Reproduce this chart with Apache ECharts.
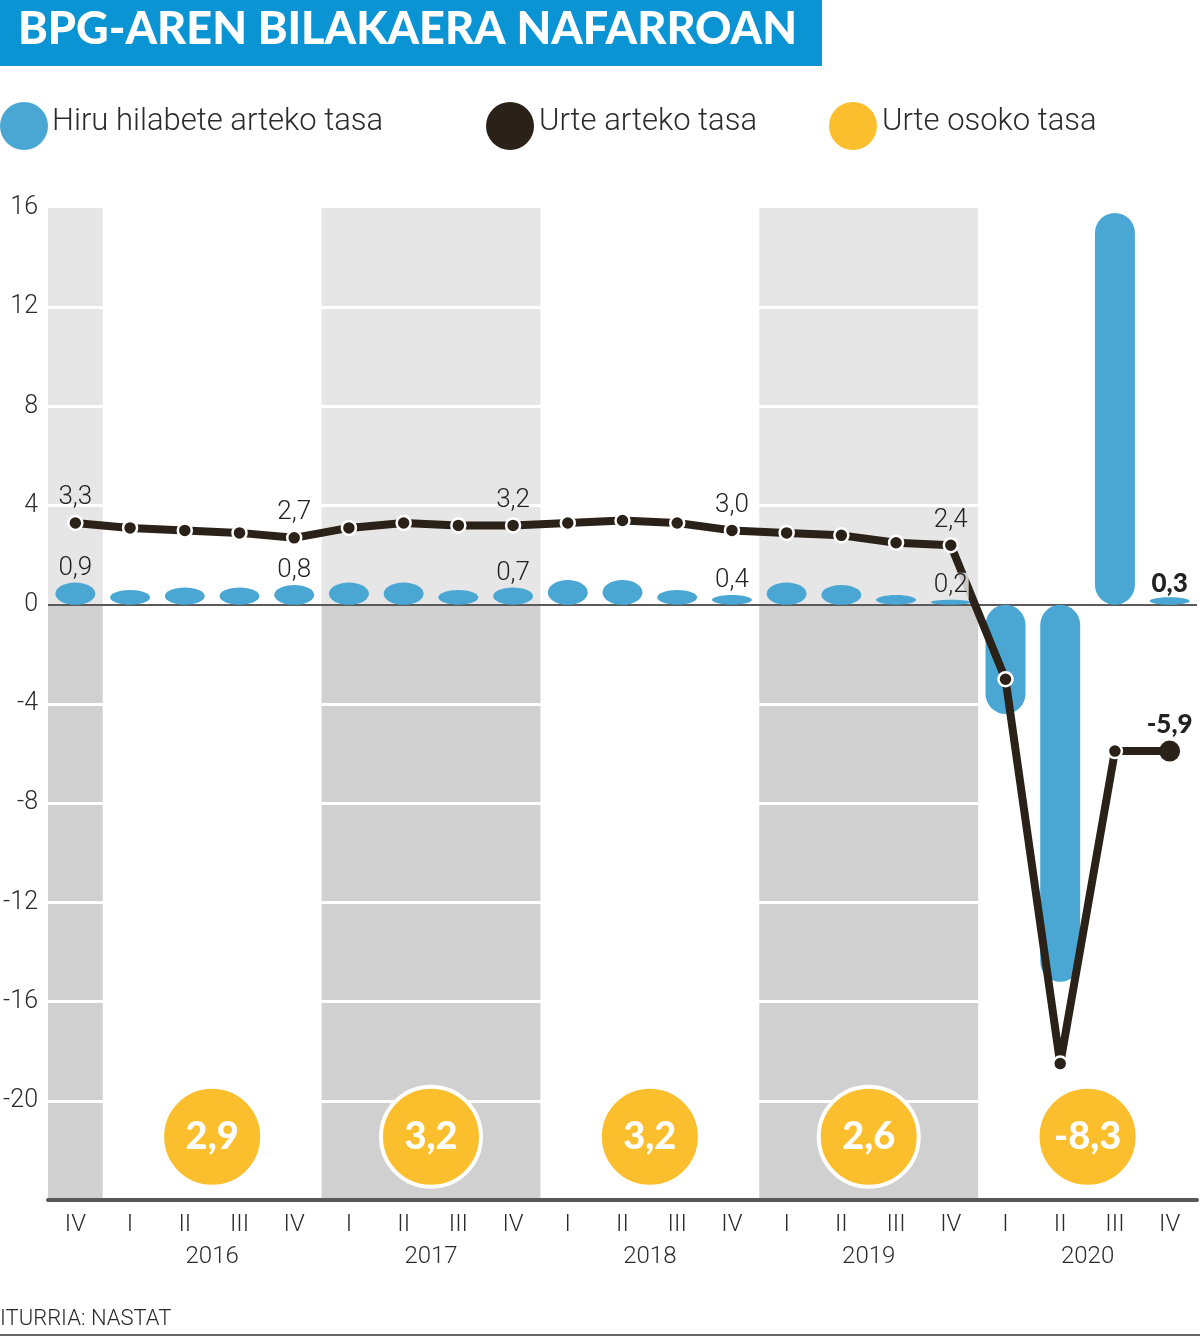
<!DOCTYPE html>
<html>
<head>
<meta charset="utf-8">
<script src="https://cdn.jsdelivr.net/npm/echarts@6/dist/echarts.min.js"></script>
<style>
html,body{margin:0;padding:0;background:#fff;}
#chart{width:1200px;height:1337px;}
</style>
</head>
<body>
<div id="chart"></div>
<script>
// ---- DATA ----
var categories = ['IV','I','II','III','IV','I','II','III','IV','I','II','III','IV','I','II','III','IV','I','II','III','IV'];
var quarterly = [0.9,0.6,0.7,0.7,0.8,0.9,0.9,0.6,0.7,1.0,1.0,0.6,0.4,0.9,0.8,0.4,0.2,-4.4,-15.2,15.8,0.3];
var yearOnYear = [3.3,3.1,3.0,2.9,2.7,3.1,3.3,3.2,3.2,3.3,3.4,3.3,3.0,2.9,2.8,2.5,2.4,-3.0,-18.5,-5.9,-5.9];
var labeledIdx = [0,4,8,12,16,20];
var years = ['2016','2017','2018','2019','2020'];
var yearCenters = [2.5,6.5,10.5,14.5,18.5];
var annualRate = [2.9,3.2,3.2,2.6,-8.3];
var shadedBands = [[-0.5,0.5],[4.5,8.5],[12.5,16.5]];
var gridValues = [-20,-16,-12,-8,-4,4,8,12];

var FONT = 'Roboto,sans-serif';
var BOLD = 'Lato,Roboto,sans-serif';
var BLUE = '#4aa7d4', DARK = '#2a2118', YELLOW = '#fbbf2e', TXT = '#2b2b2b';
function fmt(v){ return v.toFixed(1).replace('.',','); }

var chart = echarts.init(document.getElementById('chart'));

function renderBar(params, api){
  var idx = api.value(0), v = api.value(1);
  var p0 = api.coord([idx,0]), p1 = api.coord([idx,v]);
  var w = api.size([1,0])[0]*0.73;
  var h = Math.abs(p1[1]-p0[1]);
  var top = Math.min(p0[1],p1[1]);
  var style = {fill: BLUE};
  if (h <= w) {
    return {type:'ellipse', shape:{cx:p0[0], cy:top+h/2, rx:w/2, ry:h/2}, style:style};
  }
  return {type:'rect', shape:{x:p0[0]-w/2, y:top, width:w, height:h, r:w/2}, style:style};
}

var bandAreas = [];
shadedBands.forEach(function(b){
  bandAreas.push([{xAxis:b[0], yAxis:0, itemStyle:{color:'#e6e6e6'}},{xAxis:b[1], yAxis:16}]);
  bandAreas.push([{xAxis:b[0], yAxis:-24, itemStyle:{color:'#d0d0d0'}},{xAxis:b[1], yAxis:0}]);
});

var option = {
  animation:false,
  backgroundColor:'#fff',
  grid:{left:48, right:0, top:208, bottom:137},
  xAxis:[{
    type:'category', data:categories, boundaryGap:true, z:10,
    axisLine:{show:true, onZero:false, lineStyle:{color:'#58585a', width:4}},
    axisTick:{show:false},
    axisLabel:{color:TXT, fontSize:24, fontFamily:FONT, fontWeight:300, margin:13, interval:0}
  },{
    type:'value', min:-0.5, max:20.5, interval:0.5, position:'bottom',
    axisLine:{show:false, onZero:false}, axisTick:{show:false}, splitLine:{show:false},
    axisLabel:{color:TXT, fontSize:24, fontFamily:FONT, fontWeight:300, margin:45,
      showMinLabel:true, showMaxLabel:true,
      formatter:function(v){ var i = yearCenters.indexOf(v); return i>=0 ? years[i] : ''; }}
  }],
  yAxis:{
    type:'value', min:-24, max:16, interval:4,
    axisLine:{show:false}, axisTick:{show:false},
    axisLabel:{color:TXT, fontSize:25, fontFamily:FONT, fontWeight:300, margin:10,
      formatter:function(v){ return v===-24 ? '' : String(v); }},
    splitLine:{show:false}
  },
  series:[
    { // shaded year bands
      type:'line', xAxisIndex:1, data:[], z:0, silent:true,
      markArea:{silent:true, z:0, data:bandAreas}
    },
    { // white gridlines across the bands
      type:'line', xAxisIndex:1, data:[], z:1, silent:true,
      markLine:{silent:true, z:1, symbol:'none', label:{show:false},
        lineStyle:{color:'#ffffff', width:3, type:'solid'},
        data:gridValues.map(function(v){ return {yAxis:v}; })}
    },
    {
      type:'custom', name:'Hiru hilabete arteko tasa', xAxisIndex:0, z:2,
      renderItem:renderBar,
      data:quarterly.map(function(v,i){ return [i,v]; }),
      markLine:{silent:true, z:2, symbol:'none', label:{show:false},
        lineStyle:{color:'#5a5a5a', width:2, type:'solid'}, data:[{yAxis:0}]}
    },
    {
      type:'line', name:'Urte arteko tasa', xAxisIndex:0, z:3,
      data:yearOnYear.map(function(v,i){
        var last = i===yearOnYear.length-1;
        var d = {value:v};
        if (last) { d.symbolSize = 21; d.itemStyle = {borderWidth:0}; }
        if (labeledIdx.indexOf(i)>=0) {
          d.label = {show:true, position:'top', distance: last?3:4,
            formatter:fmt(v), fontSize:26, color:'#222', fontFamily: last?BOLD:FONT,
            fontWeight: last?'900':300};
        }
        return d;
      }),
      lineStyle:{color:DARK, width:8},
      symbol:'circle', symbolSize:14,
      itemStyle:{color:DARK, borderColor:'#fff', borderWidth:2.5},
      label:{show:false}
    },
    { // labels for quarterly bars
      type:'scatter', xAxisIndex:0, z:4, symbolSize:0, silent:true,
      itemStyle:{opacity:1},
      data:labeledIdx.map(function(i){
        var last = i===quarterly.length-1;
        return {value:[i, quarterly[i]], label:{show:true, position:'top', distance:1,
          formatter:fmt(quarterly[i]), fontSize:26, color:'#222',
          fontFamily: last?BOLD:FONT, fontWeight: last?'900':300,
          backgroundColor: i===16 ? 'rgba(230,230,230,0.85)' : 'transparent', padding:[0,1]}};
      })
    },
    { // annual circles
      type:'scatter', xAxisIndex:1, z:5, symbol:'circle', symbolSize:100,
      itemStyle:{color:YELLOW, borderColor:'#fff', borderWidth:4, opacity:1},
      data:annualRate.map(function(v,i){ return [yearCenters[i], -21.45]; }),
      label:{show:true, position:'inside', color:'#fff', fontSize:38, fontWeight:'900', fontFamily:BOLD,
        formatter:function(p){ return fmt(annualRate[p.dataIndex]); }}
    }
  ],
  graphic:[
    {type:'rect', left:0, top:0, shape:{width:822, height:66}, style:{fill:'#0a94d4'}},
    {type:'text', left:18, top:7, style:{text:'BPG-AREN BILAKAERA NAFARROAN', fill:'#fff', font:'900 45px Lato, sans-serif'}},
    {type:'circle', shape:{cx:24, cy:126, r:24}, style:{fill:BLUE}},
    {type:'text', left:52, top:107, style:{text:'Hiru hilabete arteko tasa', fill:TXT, font:'300 31px Roboto, sans-serif'}},
    {type:'circle', shape:{cx:510, cy:126, r:24}, style:{fill:DARK}},
    {type:'text', left:539, top:107, style:{text:'Urte arteko tasa', fill:TXT, font:'300 31px Roboto, sans-serif'}},
    {type:'circle', shape:{cx:853, cy:126, r:24}, style:{fill:YELLOW}},
    {type:'text', left:882, top:107, style:{text:'Urte osoko tasa', fill:TXT, font:'300 31px Roboto, sans-serif'}},
    {type:'text', left:0, top:1308, style:{text:'ITURRIA: NASTAT', fill:TXT, font:'300 22px Roboto, sans-serif'}},
    {type:'line', shape:{x1:0, y1:1335, x2:1200, y2:1335}, style:{stroke:'#666', lineWidth:2}}
  ]
};
chart.setOption(option);
</script>
</body>
</html>
